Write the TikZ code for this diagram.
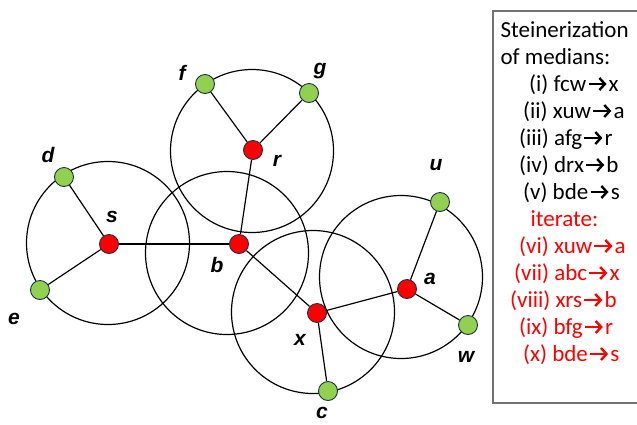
\documentclass[tikz,border=0pt]{standalone}
\usepackage{fontspec}
\setmainfont{Carlito}
\newfontfamily\lblfont{Liberation Sans}
\usepackage{xcolor}
\usepackage{tikz}
\usetikzlibrary{positioning,arrows.meta}

\definecolor{dotred}{RGB}{255,0,0}
\definecolor{dotgreen}{RGB}{146,208,80}
\definecolor{dotrim}{RGB}{30,50,70}
\newcommand{\ar}{\hspace{1pt}\tikz[baseline=-7pt] \draw[line width=2.4pt, -{Straight Barb[length=5.5pt, width=12pt, line width=2.4pt]}] (0pt,0pt) -- (18pt,0pt);\hspace{1pt}}

\begin{document}
\begin{tikzpicture}[x=1pt, y=-1pt, line width=1.2pt]
    \tikzstyle{bigcirc} = [circle, draw=black, minimum size=163pt, inner sep=0pt]
    \tikzstyle{reddot} = [circle, draw=dotrim, line width=0.9pt, fill=dotred, minimum size=19pt, inner sep=0pt]
    \tikzstyle{greendot} = [circle, draw=dotrim, line width=0.9pt, fill=dotgreen, minimum size=19pt, inner sep=0pt]
    \tikzstyle{lbl} = [font=\lblfont\bfseries\itshape\fontsize{21}{22}\selectfont, inner sep=0pt]
    \tikzstyle{line} = [anchor=base west, inner sep=0pt, font=\fontsize{23}{27}\selectfont]
    \useasboundingbox (0,0) rectangle (637,424);

    % circles
    \node (circ-s) [bigcirc] at (108,243) {};
    \node (circ-b) [bigcirc] at (227,253) {};
    \node (circ-r) [bigcirc] at (252,151) {};
    \node (circ-x) [bigcirc] at (313,312) {};
    \node (circ-a) [bigcirc] at (401,277) {};

    % points
    \node (s) [reddot] at (109,244) {};
    \node (b) [reddot] at (239,244) {};
    \node (r) [reddot] at (253,150) {};
    \node (x) [reddot] at (317,313) {};
    \node (a) [reddot] at (407,289) {};
    \node (d) [greendot] at (64,177) {};
    \node (e) [greendot] at (40,290) {};
    \node (f) [greendot] at (205,84) {};
    \node (g) [greendot] at (309,93) {};
    \node (u) [greendot] at (440,202) {};
    \node (w) [greendot] at (468,325) {};
    \node (c) [greendot] at (328,391) {};

    \draw (s) -- (d);
    \draw (s) -- (e);
    \draw (s) -- (b);
    \draw (b) -- (r);
    \draw (r) -- (f);
    \draw (r) -- (g);
    \draw (b) -- (x);
    \draw (x) -- (c);
    \draw (x) -- (a);
    \draw (a) -- (u);
    \draw (a) -- (w);

    % labels
    \node (lab-d) [lbl] at (48,155) {d};
    \node (lab-s) [lbl] at (112,217) {s};
    \node (lab-e) [lbl] at (14,319) {e};
    \node (lab-b) [lbl] at (217,265) {b};
    \node (lab-f) [lbl] at (182,73) {f};
    \node (lab-g) [lbl] at (320,71) {g};
    \node (lab-r) [lbl] at (277,161) {r};
    \node (lab-u) [lbl] at (436,165) {u};
    \node (lab-a) [lbl] at (430,279) {a};
    \node (lab-w) [lbl] at (466,357) {w};
    \node (lab-x) [lbl] at (300,340) {x};
    \node (lab-c) [lbl] at (322,413) {c};

    % legend box
    \draw [draw=black!55, line width=1.3pt] (493,11) rectangle (645,403);
    \node (l1) [line] at (500,37) {Steinerization};
    \node (l2) [line] at (500,64) {of medians:};
    \node (l3) [line] at (529,91) {(i) fcw\ar x};
    \node (l4) [line] at (523,118) {(ii) xuw\ar a};
    \node (l5) [line] at (519,145) {(iii) afg\ar r};
    \node (l6) [line] at (519,172) {(iv) drx\ar b};
    \node (l7) [line] at (523,199) {(v) bde\ar s};
    \node (l8) [line, text=dotred] at (530,226) {iterate:};
    \node (l9) [line, text=dotred] at (519,253) {(vi) xuw\ar a};
    \node (l10) [line, text=dotred] at (514,280) {(vii) abc\ar x};
    \node (l11) [line, text=dotred] at (510,307) {(viii) xrs\ar b};
    \node (l12) [line, text=dotred] at (519,334) {(ix) bfg\ar r};
    \node (l13) [line, text=dotred] at (523,361) {(x) bde\ar s};
\end{tikzpicture}
\end{document}
